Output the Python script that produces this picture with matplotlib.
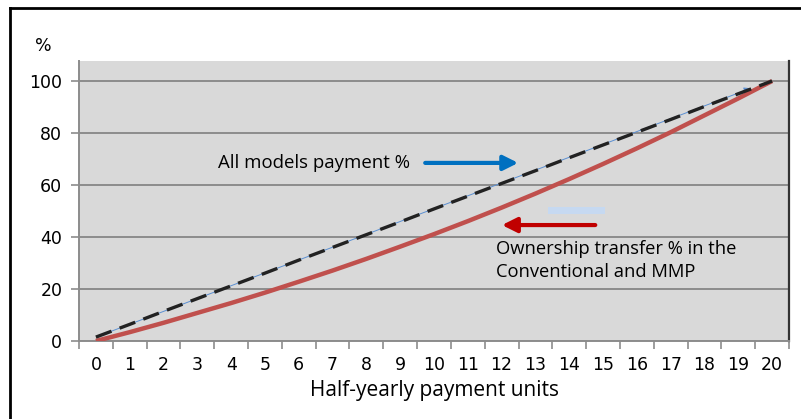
import matplotlib.pyplot as plt
from matplotlib.lines import Line2D
from matplotlib.patches import Rectangle

# data
periods = list(range(21))
payment_pct = [1.5, 6.4, 11.4, 16.3, 21.2, 26.1, 31.1, 36.0, 40.9, 45.8, 50.8,
               55.7, 60.6, 65.5, 70.5, 75.4, 80.3, 85.2, 90.2, 95.1, 100.0]
ownership_pct = [0.0, 3.4, 7.0, 10.8, 14.6, 18.6, 22.8, 27.1, 31.6, 36.3, 41.1,
                 46.1, 51.3, 56.7, 62.3, 68.1, 74.1, 80.3, 86.8, 93.3, 100.0]
y_ticks = [0, 20, 40, 60, 80, 100]

W, H = 801, 419
fig = plt.figure(figsize=(W / 100, H / 100), dpi=100)
ax = fig.add_axes([79 / W, 1 - 341 / H, 710 / W, 280 / H])

ax.set_facecolor("#d9d9d9")
ax.set_xlim(-0.5, 20.5)
ax.set_ylim(0, 107.7)

# gridlines
for v in y_ticks:
    ax.axhline(v, color="#8c8c8c", linewidth=1.4, zorder=1)

# thin trend line under the dashed series
ax.annotate("", xy=(19.45, 97.6), xytext=(0, 1.5),
            arrowprops=dict(arrowstyle="-|>", color="#5b8fd1", lw=0.7,
                            mutation_scale=10), zorder=2)

ax.plot(periods, ownership_pct, color="#c0504d", linewidth=3.2, zorder=3,
        solid_capstyle="butt")
ax.plot(periods, payment_pct, color="#222222", linewidth=2.4, zorder=4,
        dashes=(5, 2.6))

# annotations
font = "Open Sans"
ax.text(3.61, 68.5, "All models payment %", fontsize=13.4, family=font,
        va="center", ha="left", zorder=5)
ax.annotate("", xy=(12.49, 68.5), xytext=(9.74, 68.5),
            arrowprops=dict(arrowstyle="-|>", color="#0070c0", lw=3,
                            mutation_scale=22, shrinkA=0, shrinkB=0), zorder=5)
ax.add_patch(Rectangle((13.38, 48.8), 1.68, 2.7, facecolor="#c6d9f1",
                       edgecolor="none", zorder=5))
ax.annotate("", xy=(12.01, 44.6), xytext=(14.77, 44.6),
            arrowprops=dict(arrowstyle="-|>", color="#c00000", lw=3,
                            mutation_scale=22, shrinkA=0, shrinkB=0), zorder=5)
ax.text(11.84, 31.0, "Ownership transfer % in the\nConventional and MMP",
        fontsize=13.2, family=font, va="center", ha="left", linespacing=1.35,
        zorder=5)

# axes styling
for side in ["left", "bottom"]:
    ax.spines[side].set_color("#8c8c8c")
    ax.spines[side].set_linewidth(1.4)
ax.spines["top"].set_visible(False)
ax.spines["right"].set_color("#333333")
ax.spines["right"].set_linewidth(1.6)

ax.set_yticks(y_ticks)
ax.set_xticks([p - 0.5 for p in periods] + [20.5])
ax.set_xticklabels([])
ax.set_xticks(periods, minor=True)
ax.set_xticklabels([str(p) for p in periods], minor=True)
ax.tick_params(axis="x", which="major", length=6, color="#8c8c8c", width=1.2)
ax.tick_params(axis="x", which="minor", length=0, pad=11, labelsize=12.5)
ax.tick_params(axis="y", length=6, color="#8c8c8c", width=1.2, labelsize=12.5,
               pad=6)

ax.set_xlabel("Half-yearly payment units", fontsize=15, family=font,
              labelpad=4)
fig.text(43 / W, 1 - 46 / H, "%", fontsize=12.5, ha="center", va="center")

# outer frame
fig.add_artist(Line2D([10 / W, 1], [1 - 8 / H, 1 - 8 / H], color="black",
                      linewidth=2, transform=fig.transFigure))
fig.add_artist(Line2D([10 / W, 10 / W], [0, 1 - 8 / H], color="black",
                      linewidth=2, transform=fig.transFigure))

fig.savefig("out.png", dpi=100)
